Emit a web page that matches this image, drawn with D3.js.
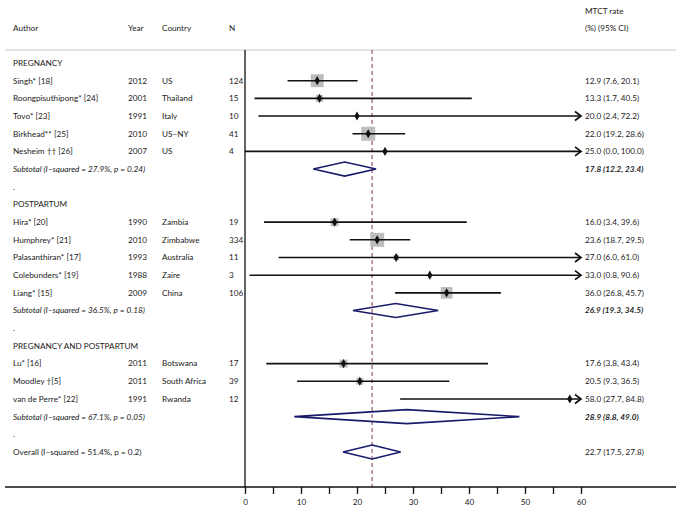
<!DOCTYPE html>
<html>
<head>
<meta charset="utf-8">
<script src="https://cdn.jsdelivr.net/npm/d3@7"></script>
<style>
  body { margin: 0; background: #fff; }
  text { font-family: Lato, "Open Sans", sans-serif; font-size: 8.2px; fill: #222; }
</style>
</head>
<body>
<div id="chart"></div>
<script>
// study level data
const groupNames = ["PREGNANCY", "POSTPARTUM", "PREGNANCY AND POSTPARTUM"];
const groups = [0, 0, 0, 0, 0, 1, 1, 1, 1, 1, 2, 2, 2];
const authors = ["Singh* [18]", "Roongpisuthipong* [24]", "Tovo* [23]", "Birkhead** [25]", "Nesheim \u2020\u2020 [26]",
    "Hira* [20]", "Humphrey* [21]", "Palasanthiran* [17]", "Colebunders* [19]", "Liang* [15]",
    "Lu* [16]", "Moodley \u2020[5]", "van de Perre* [22]"];
const years = [2012, 2001, 1991, 2010, 2007, 1990, 2010, 1993, 1988, 2009, 2011, 2011, 1991];
const countries = ["US", "Thailand", "Italy", "US\u2013NY", "US", "Zambia", "Zimbabwe", "Australia", "Zaire", "China",
    "Botswana", "South Africa", "Rwanda"];
const ns = [124, 15, 10, 41, 4, 19, 334, 11, 3, 106, 17, 39, 12];
const est = [12.9, 13.3, 20.0, 22.0, 25.0, 16.0, 23.6, 27.0, 33.0, 36.0, 17.6, 20.5, 58.0];
const lo = [7.6, 1.7, 2.4, 19.2, 0.0, 3.4, 18.7, 6.0, 0.8, 26.8, 3.8, 9.3, 27.7];
const hi = [20.1, 40.5, 72.2, 28.6, 100.0, 39.6, 29.5, 61.0, 90.6, 45.7, 43.4, 36.5, 84.8];
const weights = [17, 5, 1, 20, 0.3, 6.5, 20, 3, 0.5, 14, 6.5, 5, 1];

// subtotals and overall
const subLabels = ["Subtotal  (I\u2013squared = 27.9%, p = 0.24)", "Subtotal  (I\u2013squared = 36.5%, p = 0.18)",
    "Subtotal  (I\u2013squared = 67.1%, p = 0.05)"];
const subEst = [17.8, 26.9, 28.9];
const subLo = [12.2, 19.3, 8.8];
const subHi = [23.4, 34.5, 49.0];
const overallLabel = "Overall  (I\u2013squared = 51.4%, p = 0.2)";
const overall = { est: 22.7, lo: 17.5, hi: 27.8 };
const xTicks = [0, 10, 20, 30, 40, 50, 60];

let width = 683, height = 515;
let svg = d3.select("#chart").append("svg").attr("width", width).attr("height", height);

// build row list
let rows = [];
groupNames.forEach((g, gi) => {
    if (gi > 0) rows.push({ type: "dot" });
    rows.push({ type: "head", label: g });
    groups.forEach((gg, i) => {
        if (gg === gi) rows.push({ type: "study", i: i });
    });
    rows.push({ type: "sub", label: subLabels[gi], est: subEst[gi], lo: subLo[gi], hi: subHi[gi] });
});
rows.push({ type: "dot" });
rows.push({ type: "overall", label: overallLabel, est: overall.est, lo: overall.lo, hi: overall.hi });

let x = d3.scaleLinear().domain([0, 60]).range([245, 581]);
let y = d3.scaleLinear().domain([0, rows.length - 1]).range([63, 452]);
let size = d3.scaleSqrt().domain([0, 20]).range([0, 14]);
let fmt = d3.format(".1f");
let axisY = 487;

// header
svg.append("text").attr("x", 13).attr("y", 28).attr("dy", "0.35em").text("Author");
svg.append("text").attr("x", 128).attr("y", 28).attr("dy", "0.35em").text("Year");
svg.append("text").attr("x", 162).attr("y", 28).attr("dy", "0.35em").text("Country");
svg.append("text").attr("x", 229).attr("y", 28).attr("dy", "0.35em").text("N");
svg.append("text").attr("x", 585).attr("y", 11).attr("dy", "0.35em").text("MTCT rate");
svg.append("text").attr("x", 585).attr("y", 28).attr("dy", "0.35em").text("(%) (95% CI)");
svg.append("line").attr("x1", 5).attr("x2", 676).attr("y1", 50).attr("y2", 50)
    .attr("stroke", "#c8c8c8").attr("stroke-width", 1.2);

// reference line at overall estimate
svg.append("line").attr("x1", x(overall.est)).attr("x2", x(overall.est)).attr("y1", 50).attr("y2", axisY)
    .attr("stroke", "#9c6676").attr("stroke-width", 1.3).attr("stroke-dasharray", "4,3");

// rows
rows.forEach((r, k) => {
    let yy = y(k);
    if (r.type === "dot") {
        svg.append("text").attr("x", 13).attr("y", yy).attr("dy", "0.35em").text(".");
    } else if (r.type === "head") {
        svg.append("text").attr("x", 13).attr("y", yy).attr("dy", "0.35em").text(r.label);
    } else if (r.type === "study") {
        let i = r.i;
        svg.append("text").attr("x", 13).attr("y", yy).attr("dy", "0.35em").text(authors[i]);
        svg.append("text").attr("x", 128).attr("y", yy).attr("dy", "0.35em").text(years[i]);
        svg.append("text").attr("x", 162).attr("y", yy).attr("dy", "0.35em").text(countries[i]);
        svg.append("text").attr("x", 229).attr("y", yy).attr("dy", "0.35em").text(ns[i]);
        svg.append("text").attr("x", 585).attr("y", yy).attr("dy", "0.35em")
            .text(`${fmt(est[i])} (${fmt(lo[i])}, ${fmt(hi[i])})`);
        let s = size(weights[i]);
        svg.append("rect").attr("x", x(est[i]) - s / 2).attr("y", yy - s / 2)
            .attr("width", s).attr("height", s).attr("fill", "#bdbdbd");
        let clipped = hi[i] > 60;
        let xe = clipped ? x(60) : x(hi[i]);
        svg.append("line").attr("x1", x(lo[i])).attr("x2", xe).attr("y1", yy).attr("y2", yy)
            .attr("stroke", "#111").attr("stroke-width", 1.6);
        if (clipped) {
            svg.append("path").attr("d", `M${xe - 6},${yy - 4.5}L${xe},${yy}L${xe - 6},${yy + 4.5}`)
                .attr("fill", "none").attr("stroke", "#111").attr("stroke-width", 1.7);
        }
        svg.append("path").attr("d", d3.symbol(d3.symbolDiamond, 24)())
            .attr("transform", `translate(${x(est[i])},${yy})`).attr("fill", "#111");
    } else {
        let t = svg.append("text").attr("x", 13).attr("y", yy).attr("dy", "0.35em").text(r.label);
        if (r.type === "sub") t.style("font-style", "italic");
        let rt = svg.append("text").attr("x", 585).attr("y", yy).attr("dy", "0.35em")
            .text(`${fmt(r.est)} (${fmt(r.lo)}, ${fmt(r.hi)})`);
        if (r.type === "sub") rt.style("font-style", "italic").style("font-weight", "bold");
        let h = 7;
        svg.append("path")
            .attr("d", `M${x(r.lo)},${yy}L${x(r.est)},${yy - h}L${x(r.hi)},${yy}L${x(r.est)},${yy + h}Z`)
            .attr("fill", "none").attr("stroke", "#1a1a6b").attr("stroke-width", 1.6);
    }
});

// left vertical line of plot and axis
svg.append("line").attr("x1", x(0)).attr("x2", x(0)).attr("y1", 50).attr("y2", axisY)
    .attr("stroke", "#111").attr("stroke-width", 1.3);
svg.append("line").attr("x1", 5).attr("x2", 676).attr("y1", axisY).attr("y2", axisY)
    .attr("stroke", "#111").attr("stroke-width", 1.3);

let axis = svg.append("g").attr("transform", `translate(0,${axisY})`)
    .call(d3.axisBottom(x).tickValues(d3.range(0, 61, 5)).tickSize(7).tickPadding(5)
        .tickFormat(d => xTicks.includes(d) ? d : ""));
axis.select(".domain").remove();
axis.selectAll(".tick line").attr("stroke", "#111").attr("stroke-width", 1.3);
axis.selectAll(".tick text").style("font-family", "Lato, sans-serif").style("font-size", "8.2px").attr("fill", "#222");
</script>
</body>
</html>
